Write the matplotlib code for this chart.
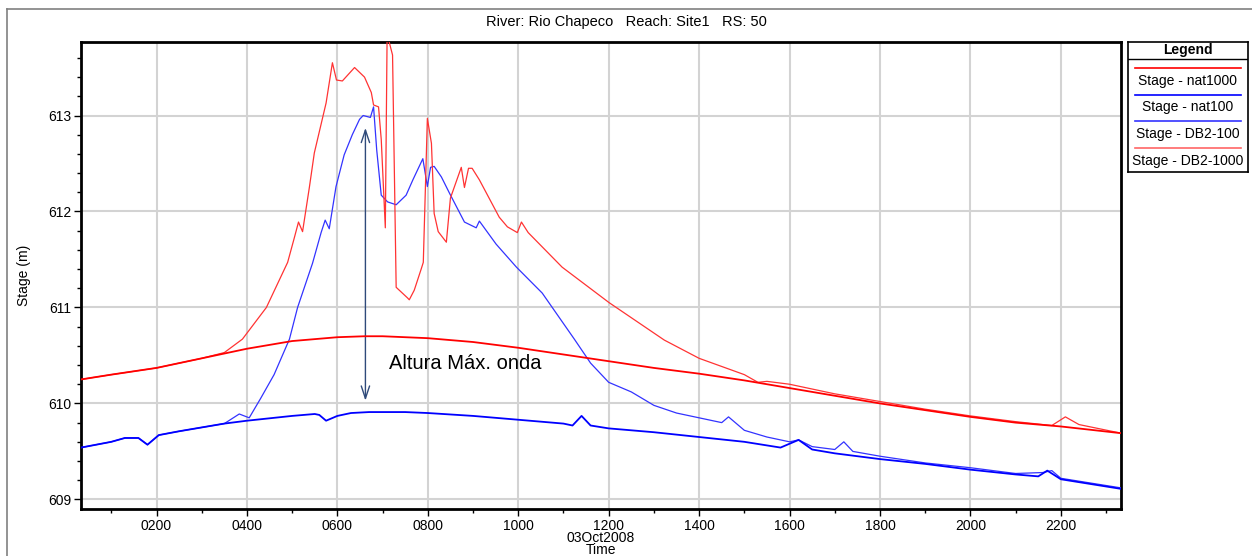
import matplotlib
matplotlib.use("Agg")
import matplotlib.pyplot as plt
from matplotlib.lines import Line2D

plt.rcParams['font.family'] = ['Liberation Sans', 'DejaVu Sans']

# Time in hours on 03Oct2008, stage in metres
nat1000_t = [0.33, 1, 2, 3, 4, 5, 6, 6.6, 7, 8, 9, 10, 11, 12, 13, 14, 15, 16, 17, 18, 19, 20, 21, 22, 23.33]
nat1000_s = [610.25, 610.30, 610.37, 610.47, 610.57, 610.65, 610.69, 610.70, 610.70, 610.68, 610.64, 610.58,
             610.51, 610.44, 610.37, 610.31, 610.24, 610.16, 610.08, 610.00, 609.93, 609.86, 609.80, 609.76, 609.69]

nat100_t = [0.33, 1.0, 1.3, 1.6, 1.8, 2.05, 2.5, 3, 3.5, 4, 5, 5.5, 5.6, 5.75, 6.0, 6.3, 6.7, 7.5, 8, 9, 10, 11,
            11.2, 11.4, 11.6, 12, 13, 14, 15, 15.8, 16.2, 16.5, 17, 18, 19, 20, 21, 21.5, 21.7, 22, 23.33]
nat100_s = [609.54, 609.60, 609.64, 609.64, 609.57, 609.67, 609.71, 609.75, 609.79, 609.82, 609.87, 609.89,
            609.88, 609.82, 609.87, 609.90, 609.91, 609.91, 609.90, 609.87, 609.83, 609.79, 609.77, 609.87,
            609.77, 609.74, 609.70, 609.65, 609.60, 609.54, 609.62, 609.52, 609.48, 609.42, 609.37, 609.31,
            609.26, 609.24, 609.30, 609.21, 609.11]

db2_100_t = [0.33, 1.0, 1.3, 1.6, 1.8, 2.05, 2.5, 3, 3.5, 3.83, 4.05, 4.3, 4.6, 4.94, 5.12, 5.45, 5.64, 5.73,
             5.82, 5.97, 6.15, 6.33, 6.49, 6.57, 6.73, 6.80, 6.87, 6.97, 7.11, 7.30, 7.52, 7.67, 7.89, 7.99,
             8.06, 8.14, 8.30, 8.48, 8.81, 9.07, 9.14, 9.51, 9.96, 10.53, 11.24, 11.6, 12.0, 12.5, 13, 13.5,
             14, 14.5, 14.65, 14.8, 15, 15.5, 16, 16.2, 16.5, 17, 17.2, 17.4, 18, 19, 20, 21, 21.6, 21.8, 22,
             23.33]
db2_100_s = [609.54, 609.60, 609.64, 609.64, 609.57, 609.67, 609.71, 609.75, 609.79, 609.89, 609.85, 610.05,
             610.30, 610.67, 611.00, 611.46, 611.78, 611.91, 611.82, 612.26, 612.59, 612.80, 612.96, 613.00,
             612.98, 613.09, 612.64, 612.17, 612.10, 612.07, 612.17, 612.33, 612.55, 612.26, 612.46, 612.47,
             612.36, 612.19, 611.89, 611.83, 611.90, 611.66, 611.42, 611.15, 610.67, 610.42, 610.22, 610.12,
             609.98, 609.90, 609.85, 609.80, 609.86, 609.80, 609.72, 609.65, 609.60, 609.62, 609.55, 609.52,
             609.60, 609.50, 609.45, 609.38, 609.33, 609.27, 609.28, 609.30, 609.22, 609.12]

db2_1000_t = [0.33, 1, 2, 3, 3.5, 3.90, 4.43, 4.90, 5.05, 5.14, 5.23, 5.38, 5.49, 5.75, 5.89, 5.98, 6.11, 6.38,
              6.60, 6.75, 6.80, 6.91, 6.97, 7.06, 7.10, 7.22, 7.30, 7.55, 7.59, 7.70, 7.86, 7.90, 7.99, 8.08,
              8.14, 8.23, 8.41, 8.50, 8.74, 8.81, 8.90, 8.98, 9.14, 9.58, 9.76, 9.98, 10.07, 10.22, 10.97,
              12.01, 13.23, 14, 15, 15.3, 15.5, 16, 17, 18, 19, 20, 21, 21.8, 22.1, 22.4, 23.33]
db2_1000_s = [610.25, 610.30, 610.37, 610.47, 610.53, 610.67, 611.00, 611.47, 611.73, 611.89, 611.79, 612.25,
              612.61, 613.13, 613.55, 613.37, 613.36, 613.50, 613.40, 613.24, 613.11, 613.09, 612.75, 611.83,
              613.85, 613.63, 611.21, 611.10, 611.08, 611.18, 611.41, 611.47, 612.97, 612.71, 611.98, 611.79,
              611.68, 612.14, 612.46, 612.25, 612.45, 612.45, 612.33, 611.94, 611.84, 611.78, 611.89, 611.78,
              611.42, 611.05, 610.66, 610.47, 610.30, 610.22, 610.23, 610.20, 610.10, 610.02, 609.94, 609.87,
              609.81, 609.77, 609.86, 609.78, 609.69]

xtick_hours = [2, 4, 6, 8, 10, 12, 14, 16, 18, 20, 22]
xtick_labels = ['0200', '0400', '0600', '0800', '1000', '1200', '1400', '1600', '1800', '2000', '2200']
ytick_values = [609, 610, 611, 612, 613]

W, H = 1252, 556
fig = plt.figure(figsize=(W / 100, H / 100), dpi=100)

# outer gray frame (top and left edges visible)
fig.add_artist(Line2D([7 / W, 1], [1 - 9 / H, 1 - 9 / H], color='#808080', lw=1.2, transform=fig.transFigure))
fig.add_artist(Line2D([7 / W, 7 / W], [0, 1 - 9 / H], color='#808080', lw=1.2, transform=fig.transFigure))

ax = fig.add_axes([81 / W, (H - 509) / H, (1121 - 81) / W, (509 - 42) / H])

ax.plot(nat1000_t, nat1000_s, color='#ff0000', lw=1.3, label='Stage - nat1000', zorder=4)
ax.plot(nat100_t, nat100_s, color='#0000ff', lw=1.3, label='Stage - nat100', zorder=4)
ax.plot(db2_100_t, db2_100_s, color='#3333ff', lw=0.9, label='Stage - DB2-100', zorder=3)
ax.plot(db2_1000_t, db2_1000_s, color='#ff3333', lw=0.9, label='Stage - DB2-1000', zorder=3)

ax.set_xticks(xtick_hours)
ax.set_xticklabels(xtick_labels)
ax.set_xticks(range(1, 24), minor=True)
ax.set_yticks(ytick_values)
ax.set_yticks([609 + 0.2 * i for i in range(0, 24)], minor=True)
ax.set_xlim(0.33, 23.33)
ax.set_ylim(608.9, 613.766)
ax.tick_params(axis='both', which='major', length=5, width=1, labelsize=10, direction='out', pad=2)
ax.tick_params(axis='both', which='minor', length=3, width=1, direction='out')
ax.grid(True, which='major', color='#d3d3d3', lw=1.5, zorder=0)
for sp in ax.spines.values():
    sp.set_linewidth(2)
    sp.set_color('black')

ax.set_ylabel('Stage (m)', fontsize=10, labelpad=12)
ax.set_xlabel('03Oct2008\nTime', fontsize=10, labelpad=-1, linespacing=0.8)
fig.text(626 / W, 1 - 22 / H, 'River: Rio Chapeco   Reach: Site1   RS: 50', ha='center', va='center', fontsize=10.5)

# annotation: maximum wave height
ax.annotate('', xy=(6.62, 610.0), xytext=(6.62, 612.9),
            arrowprops=dict(arrowstyle='<->,head_length=0.9,head_width=0.3', color='#2f4a7a', lw=1))
ax.text(7.15, 610.42, 'Altura Máx. onda', fontsize=14.5, va='center', ha='left')

# legend box
lax = fig.add_axes([1128 / W, (H - 172) / H, (1248 - 1128) / W, (172 - 42) / H])
lax.set_xlim(0, 1)
lax.set_ylim(172, 42)
lax.set_xticks([])
lax.set_yticks([])
for sp in lax.spines.values():
    sp.set_linewidth(1.2)
lax.axhline(59, color='black', lw=1)
lax.text(0.5, 50, 'Legend', ha='center', va='center', fontsize=10, fontweight='bold')
entries = [('Stage - nat1000', '#ff0000'), ('Stage - nat100', '#0000ff'),
           ('Stage - DB2-100', '#3333ff'), ('Stage - DB2-1000', '#ff6666')]
for i, (lab, col) in enumerate(entries):
    yl = 68 + i * 26.7
    lax.plot([0.06, 0.94], [yl, yl], color=col, lw=1.2)
    lax.text(0.5, yl + 12.5, lab, ha='center', va='center', fontsize=10)

fig.savefig('out.png', dpi=100)
